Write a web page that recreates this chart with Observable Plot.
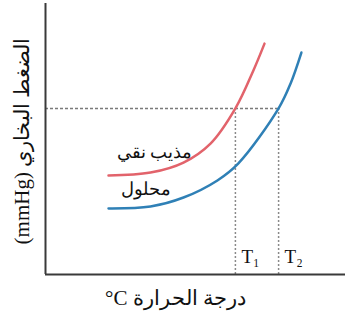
<!DOCTYPE html>
<html>
<head>
<meta charset="utf-8">
<script src="https://cdn.jsdelivr.net/npm/d3@7"></script>
<script src="https://cdn.jsdelivr.net/npm/@observablehq/plot@0.6"></script>
<style>
  html, body { margin: 0; padding: 0; background: #fff; }
  #chart svg { display: block; }
</style>
</head>
<body>
<div id="chart"></div>
<script>
// Pure solvent curve (temperature, vapour pressure), arbitrary units 0-100
const solventT = [21, 35, 46, 55, 63.3, 69.3, 73];
const solventP = [36.5, 37.6, 41.3, 48.3, 61.3, 75.3, 85.2];
// Solution curve
const solutionT = [21, 35, 46, 57.3, 64.3, 77.7, 81.7, 85.3];
const solutionP = [24.4, 25.1, 28.4, 34.7, 41.0, 61.3, 70.5, 81.9];
// External pressure level and boiling temperatures
const externalP = 61.3;
const boilT = [63.3, 77.7];
const boilLabels = ["T\u2081", "T\u2082"];
const seriesNames = ["مذيب نقي", "محلول"];
const xLabel = "°C درجة الحرارة";
const yLabel = "(mmHg) الضغط البخاري";

const solvent = solventT.map((t, i) => ({t, p: solventP[i]}));
const solution = solutionT.map((t, i) => ({t, p: solutionP[i]}));
const boils = boilT.map((t, i) => ({t, label: boilLabels[i]}));

const red = "#e2636b";
const blue = "#2f80b6";
const font = "'Liberation Serif', 'DejaVu Serif', serif";

const chart = Plot.plot({
  width: 345,
  height: 320,
  marginLeft: 45,
  marginRight: 0,
  marginTop: 3,
  marginBottom: 46,
  x: {domain: [0, 100], axis: null},
  y: {domain: [0, 100], axis: null},
  style: {fontFamily: font, background: "#fff"},
  marks: [
    // dashed guides
    Plot.ruleY([externalP], {x1: 0, x2: boilT[1], stroke: "#7a7a7a", strokeWidth: 1.5, strokeDasharray: "3,2"}),
    Plot.ruleX(boils, {x: "t", y1: 0, y2: externalP, stroke: "#8a8a8a", strokeWidth: 1.5, strokeDasharray: "2,2"}),
    // curves
    Plot.line(solvent, {x: "t", y: "p", stroke: red, strokeWidth: 2.5, curve: "catmull-rom"}),
    Plot.line(solution, {x: "t", y: "p", stroke: blue, strokeWidth: 2.5, curve: "catmull-rom"}),
    // axes lines
    Plot.ruleX([0], {stroke: "#3a3a3a", strokeWidth: 2}),
    Plot.ruleY([0], {stroke: "#3a3a3a", strokeWidth: 2}),
    // curve labels
    Plot.text([solvent[0]], {x: "t", y: "p", text: () => seriesNames[0], dx: 46, dy: -23, fontSize: 18, fill: "#111", textAnchor: "middle"}),
    Plot.text([solution[0]], {x: "t", y: "p", text: () => seriesNames[1], dx: 37, dy: -19, fontSize: 18, fill: "#111", textAnchor: "middle"}),
    // T labels
    Plot.text(boils, {x: "t", y: 0, text: "label", dx: 6, dy: -18, fontSize: 19, fill: "#111", textAnchor: "start"}),
    // axis titles
    Plot.text([xLabel], {frameAnchor: "bottom", textAnchor: "middle", dx: -20, dy: 30, fontSize: 21, fill: "#111"}),
    Plot.text([yLabel], {frameAnchor: "left", textAnchor: "middle", dx: -23, dy: 2, rotate: -90, fontSize: 21, fill: "#111"})
  ]
});
document.getElementById("chart").appendChild(chart);
</script>
</body>
</html>
